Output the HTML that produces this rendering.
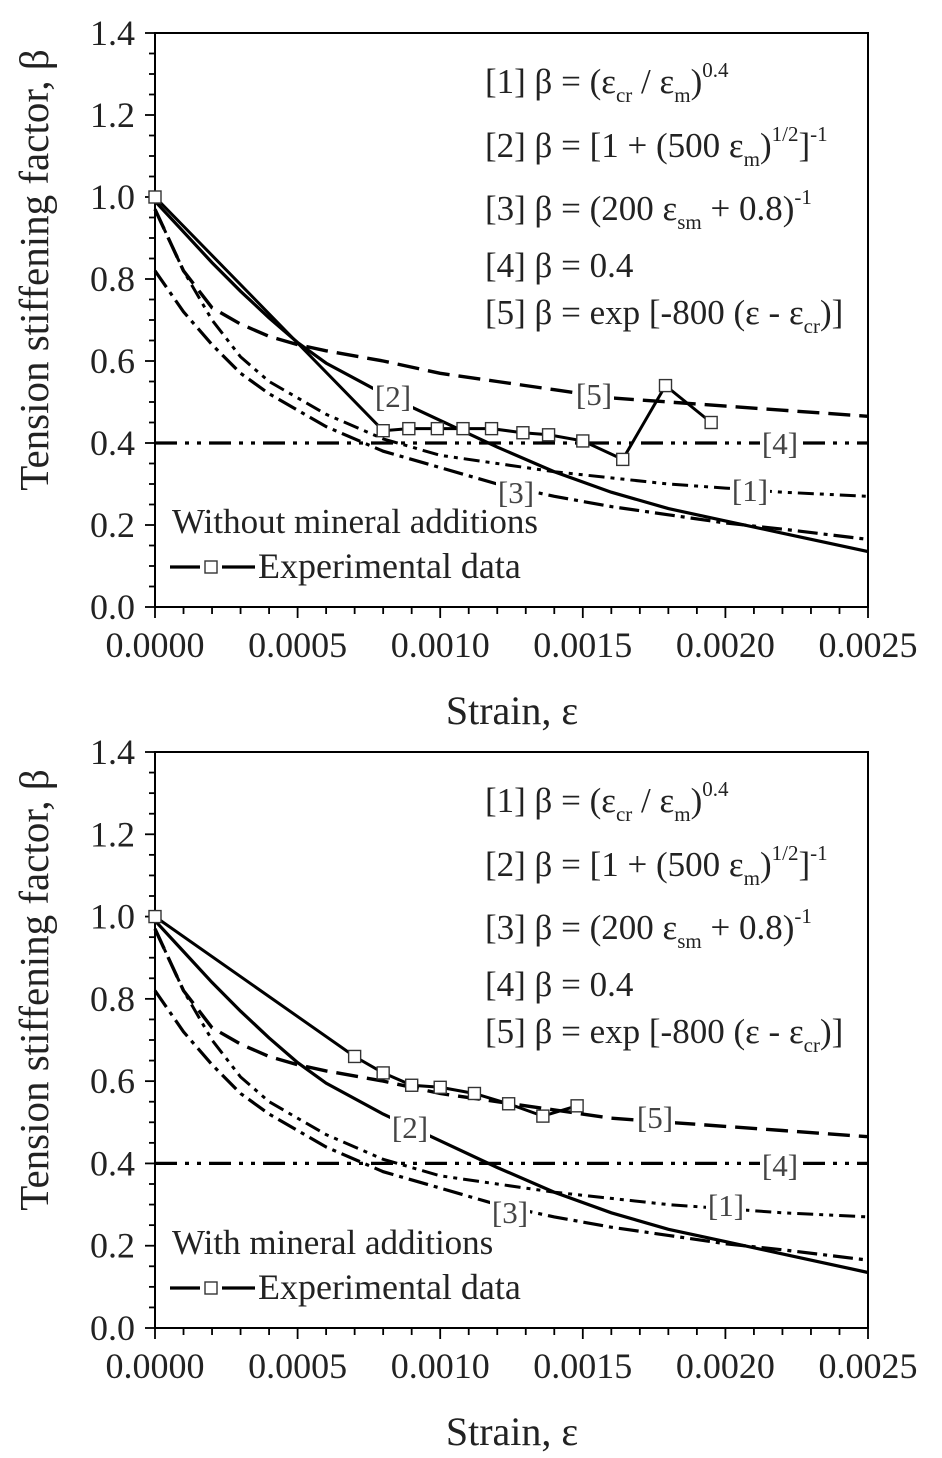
<!DOCTYPE html>
<html><head><meta charset="utf-8">
<style>
body{margin:0;background:#fff;}
svg{display:block;font-family:"Liberation Serif",serif;}
</style></head>
<body>
<svg id="fig" width="942" height="1458" viewBox="0 0 942 1458"></svg>
<script>
const xs = [0,0.0001,0.0002,0.0003,0.0004,0.0005,0.0006,0.0008,0.0010,0.0012,0.0014,0.0016,0.0018,0.0020,0.0022,0.0025];
const curve1 = [0.97,0.82,0.70,0.61,0.55,0.51,0.47,0.41,0.37,0.35,0.33,0.315,0.30,0.29,0.28,0.27];
const curve2 = [0.99,0.915,0.84,0.77,0.705,0.645,0.595,0.52,0.455,0.39,0.33,0.28,0.24,0.21,0.18,0.135];
const curve3 = [0.82,0.72,0.64,0.57,0.52,0.48,0.44,0.38,0.34,0.30,0.27,0.245,0.225,0.205,0.19,0.165];
const curve4 = [0.4,0.4,0.4,0.4,0.4,0.4,0.4,0.4,0.4,0.4,0.4,0.4,0.4,0.4,0.4,0.4];
const curve5 = [0.97,0.82,0.73,0.69,0.66,0.64,0.625,0.60,0.57,0.55,0.53,0.51,0.50,0.49,0.48,0.465];
const expX1 = [0,0.0008,0.00089,0.00099,0.00108,0.00118,0.00129,0.00138,0.0015,0.00164,0.00179,0.00195];
const expY1 = [1.0,0.43,0.435,0.435,0.435,0.435,0.425,0.42,0.405,0.36,0.54,0.45];
const expX2 = [0,0.0007,0.0008,0.0009,0.0010,0.00112,0.00124,0.00136,0.00148];
const expY2 = [1.0,0.66,0.62,0.59,0.585,0.57,0.545,0.515,0.54];
const yTicks = [0.0,0.2,0.4,0.6,0.8,1.0,1.2,1.4];
const xTicks = [0,0.0005,0.0010,0.0015,0.0020,0.0025];
const xTickLabels = ["0.0000","0.0005","0.0010","0.0015","0.0020","0.0025"];

const NS="http://www.w3.org/2000/svg";
const svg=document.getElementById('fig');
function mk(tag,attrs,parent){const e=document.createElementNS(NS,tag);for(const k in attrs)e.setAttribute(k,attrs[k]);(parent||svg).appendChild(e);return e;}

function panel(top,bottom,prefix,caption,ex,ey,labels){
  const L=155,R=868;
  const X=v=>L+(R-L)*v/0.0025;
  const Y=v=>bottom-(bottom-top)*v/1.4;
  const g=mk('g',{});
  
  
  const frame=mk('rect',{x:L,y:top,width:R-L,height:bottom-top,fill:'none',stroke:'#000','stroke-width':2},g);
  
  
  for(let i=0;i<=28;i++){const v=i*0.05;const y=Y(v);const major=i%4===0;
    mk('line',{x1:L,x2:L-(major?10:6),y1:y,y2:y,stroke:'#000','stroke-width':1.8},g);}
  yTicks.forEach(v=>{const t=mk('text',{x:L-20,y:Y(v)+12,'text-anchor':'end','font-size':36,fill:'#222'},g);t.textContent=v.toFixed(1);
    
    });
  for(let i=0;i<=25;i++){const x=X(i*0.0001);const major=i%5===0;
    mk('line',{x1:x,x2:x,y1:bottom,y2:bottom+(major?11:7),stroke:'#000','stroke-width':1.8},g);}
  xTicks.forEach((v,i)=>{const t=mk('text',{x:X(v),y:bottom+50,'text-anchor':'middle','font-size':36,fill:'#222'},g);t.textContent=xTickLabels[i];
    
    });
  const yt=mk('text',{transform:`translate(48,${(top+bottom)/2-50}) rotate(-90)`,'text-anchor':'middle','font-size':41,fill:'#222'},g);
  yt.textContent='Tension stiffening factor, β';
  
  
  const xt=mk('text',{x:512,y:bottom+117,'text-anchor':'middle','font-size':40,fill:'#222'},g);
  xt.textContent='Strain, ε';
  
  
  const path=(xa,ya)=>xa.map((v,i)=>(i?'L':'M')+X(v).toFixed(1)+','+Y(ya[i]).toFixed(1)).join(' ');
  const series=[[curve1,'16,6,4,6,4,6','curve-1',3],[curve2,'','curve-2',3.2],[curve3,'20,6,4,6','curve-3',3.2],[curve4,'22,8,4,8,4,8','curve-4',3.2],[curve5,'22,9','curve-5',3.4]];
  series.forEach(s=>{const p=mk('path',{d:path(xs,s[0]),fill:'none',stroke:'#000','stroke-width':s[3],'stroke-dasharray':s[1]},g);
    
    });
  const ep=mk('path',{d:path(ex,ey),fill:'none',stroke:'#000','stroke-width':3},g);
  
  
  ex.forEach((v,i)=>{const r=mk('rect',{x:X(v)-6,y:Y(ey[i])-6,width:12,height:12,fill:'#fff',stroke:'#333','stroke-width':1.4},g);
    
    });
  labels.forEach(l=>{mk('rect',{x:l[1]-20,y:l[2]-26,width:40,height:34,fill:'#fff'},g);
    const t=mk('text',{x:l[1],y:l[2],'text-anchor':'middle','font-size':31,fill:'#444'},g);t.textContent=l[0];
    
    });
  const fx=485;
  const fg=mk('g',{'font-size':35,fill:'#222'},g);
  
  
  const lines=[
    {y:top+60,html:'[1] β = (ε<tspan font-size="21" dy="9">cr</tspan><tspan dy="-9"> / ε</tspan><tspan font-size="21" dy="9">m</tspan><tspan dy="-9">)</tspan><tspan font-size="21" dy="-16">0.4</tspan>'},
    {y:top+124,html:'[2] β = [1 + (500 ε<tspan font-size="21" dy="9">m</tspan><tspan dy="-9">)</tspan><tspan font-size="21" dy="-16">1/2</tspan><tspan dy="16">]</tspan><tspan font-size="21" dy="-16">-1</tspan>'},
    {y:top+187,html:'[3] β = (200 ε<tspan font-size="21" dy="9">sm</tspan><tspan dy="-9"> + 0.8)</tspan><tspan font-size="21" dy="-16">-1</tspan>'},
    {y:top+244,html:'[4] β = 0.4'},
    {y:top+291,html:'[5] β = exp [-800 (ε - ε<tspan font-size="21" dy="9">cr</tspan><tspan dy="-9">)]</tspan>'}];
  lines.forEach(l=>{const t=mk('text',{x:fx,y:l.y},fg);t.innerHTML=l.html;
    
    });
  const cap=mk('text',{x:L+17,y:bottom-74,'font-size':35,fill:'#222'},g);cap.textContent=caption;
  
  
  const ly=bottom-40;
  const lg=mk('g',{},g);
  
  
  mk('line',{x1:L+15,x2:L+45,y1:ly,y2:ly,stroke:'#000','stroke-width':3.2},lg);
  mk('line',{x1:L+67,x2:L+100,y1:ly,y2:ly,stroke:'#000','stroke-width':3.2},lg);
  mk('rect',{x:L+50,y:ly-6,width:12,height:12,fill:'#fff',stroke:'#333','stroke-width':1.4},lg);
  const lt=mk('text',{x:L+103,y:ly+11,'font-size':36,fill:'#222'},lg);lt.textContent='Experimental data';
}
panel(33,607,'top','Without mineral additions',expX1,expY1,[['[2]',393,407],['[5]',594,405],['[4]',780,454],['[1]',750,501],['[3]',516,503]]);
panel(752,1328,'bottom','With mineral additions',expX2,expY2,[['[2]',410,1138],['[5]',655,1128],['[4]',780,1176],['[1]',726,1216],['[3]',510,1223]]);
</script>
</body></html>
